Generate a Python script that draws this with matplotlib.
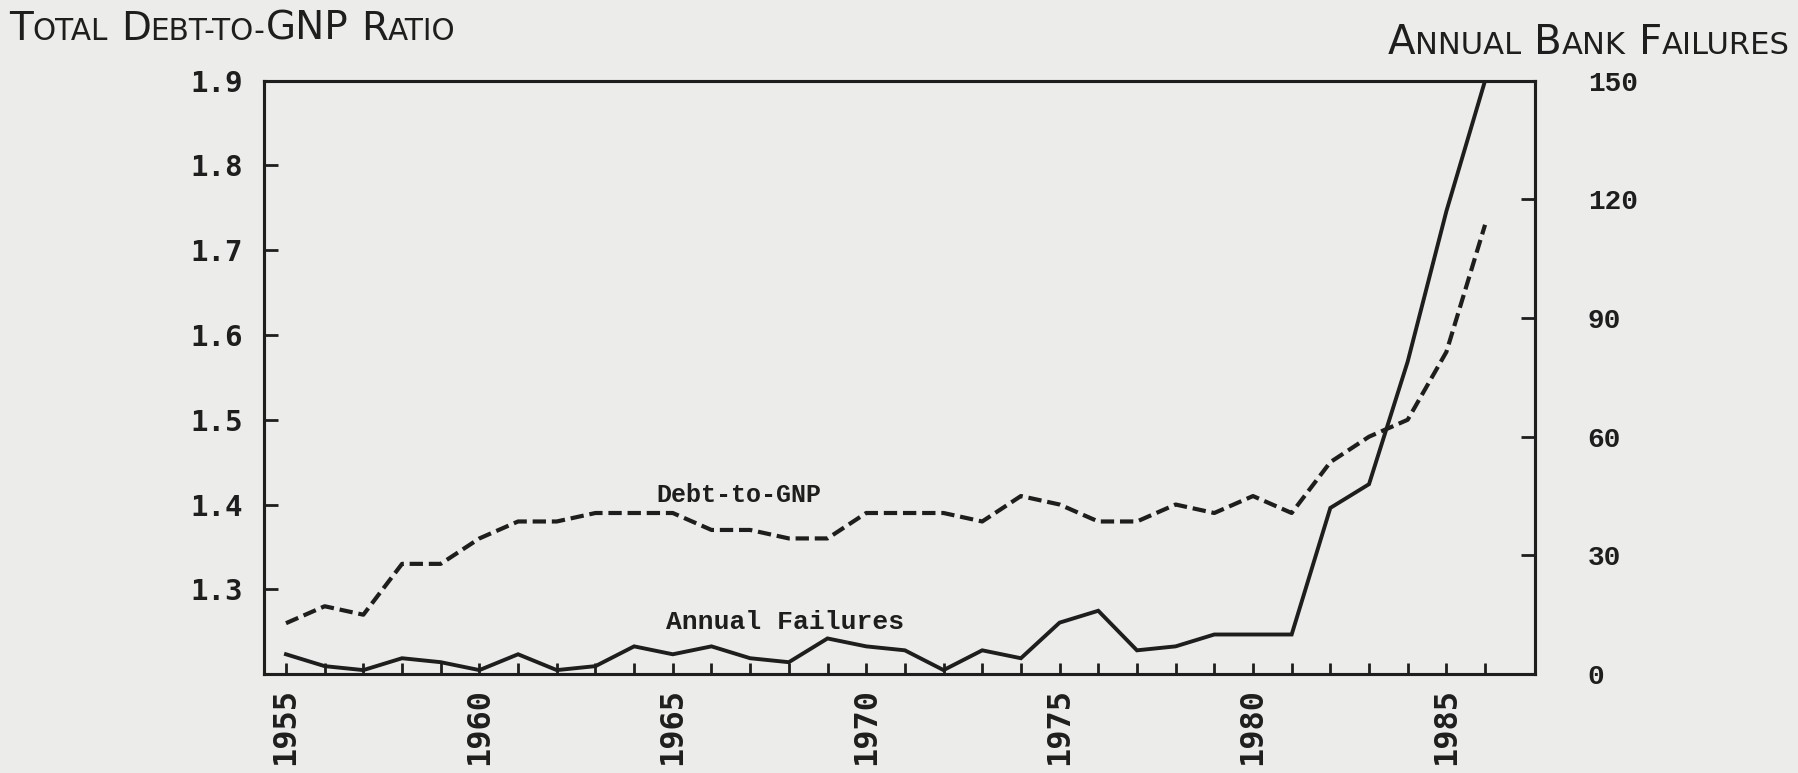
import matplotlib
matplotlib.use("Agg")
import matplotlib.pyplot as plt
from matplotlib.ticker import FixedLocator, FixedFormatter
from matplotlib.transforms import IdentityTransform

# ---------------- data ----------------
years = list(range(1955, 1987))
debt_to_gnp = [1.26, 1.28, 1.27, 1.33, 1.33, 1.36, 1.38, 1.38, 1.39, 1.39,
               1.39, 1.37, 1.37, 1.36, 1.36, 1.39, 1.39, 1.39, 1.38, 1.41,
               1.40, 1.38, 1.38, 1.40, 1.39, 1.41, 1.39, 1.45, 1.48, 1.50,
               1.58, 1.73]
annual_failures = [5, 2, 1, 4, 3, 1, 5, 1, 2, 7,
                   5, 7, 4, 3, 9, 7, 6, 1, 6, 4,
                   13, 16, 6, 7, 10, 10, 10, 42, 48, 79,
                   117, 150]
left_ticks = [1.3, 1.4, 1.5, 1.6, 1.7, 1.8, 1.9]
right_ticks = [0, 30, 60, 90, 120, 150]
year_labels = [str(y) if y % 5 == 0 else "" for y in years]

BG = "#ececea"
INK = "#1e1e1e"

fig = plt.figure(figsize=(17.98, 7.73), dpi=100, facecolor=BG)
ax = fig.add_axes([0.1468, 0.128, 0.7069, 0.7676])
ax.set_facecolor(BG)

ax.plot(years, debt_to_gnp, color=INK, lw=3.0, ls=(0, (3.2, 1.4)),
        dash_capstyle="butt", solid_joinstyle="round")
ax.set_xlim(1954.43, 1987.29)
ax.set_ylim(1.2, 1.9)

ax.yaxis.set_major_locator(FixedLocator(left_ticks))
ax.yaxis.set_major_formatter(FixedFormatter([f"{v:.1f}" for v in left_ticks]))
ax.xaxis.set_major_locator(FixedLocator(years))
ax.xaxis.set_major_formatter(FixedFormatter(year_labels))

for sp in ax.spines.values():
    sp.set_linewidth(2.2)
    sp.set_color(INK)

ax.tick_params(axis="y", direction="in", length=10, width=2.0, pad=15,
               colors=INK, labelsize=21)
ax.tick_params(axis="x", direction="in", length=8, width=2.0, pad=10,
               colors=INK, labelsize=23, labelrotation=90)
for lab in ax.get_yticklabels():
    lab.set_fontfamily("DejaVu Sans Mono")
    lab.set_fontweight("bold")
for lab in ax.get_xticklabels():
    lab.set_fontfamily("DejaVu Sans Mono")
    lab.set_fontweight("bold")

ax2 = ax.twinx()
ax2.plot(years, annual_failures, color=INK, lw=2.8, solid_joinstyle="miter")
ax2.set_ylim(0, 150)
ax2.yaxis.set_major_locator(FixedLocator(right_ticks))
ax2.yaxis.set_major_formatter(FixedFormatter([str(v) for v in right_ticks]))
for sp in ax2.spines.values():
    sp.set_linewidth(2.2)
    sp.set_color(INK)
ax2.tick_params(axis="y", direction="in", length=10, width=2.0, pad=38,
                colors=INK, labelsize=20)
for lab in ax2.get_yticklabels():
    lab.set_fontfamily("Liberation Mono")
    lab.set_fontweight("bold")

# in-plot labels
ax.text(1966.7, 1.411, "Debt-to-GNP", family="Liberation Mono", weight="bold",
        fontsize=18, color=INK, ha="center", va="center")
ax.text(1967.9, 1.262, "Annual Failures", family="Liberation Mono", weight="bold",
        fontsize=19, color=INK, ha="center", va="center")

# small-caps titles
renderer = fig.canvas.get_renderer()


def small_caps(x_px, y_px, parts, size, ha="left"):
    """parts: list of (text, is_big). Coordinates in pixels from top-left."""
    H = fig.bbox.height
    items = []
    total = 0.0
    for txt, big in parts:
        if txt == " ":
            items.append((None, size * 0.45))
            total += size * 0.45
            continue
        t = fig.text(0, 0, txt, fontsize=size if big else size * 0.76,
                     family="DejaVu Sans", color=INK, va="baseline",
                     ha="left", transform=IdentityTransform())
        w = t.get_window_extent(renderer).width
        items.append((t, w))
        total += w
    x = x_px - (total if ha == "right" else 0)
    for t, w in items:
        if t is not None:
            t.set_position((x, H - y_px))
        x += w


small_caps(9, 40, [("T", 1), ("OTAL", 0), (" ", 0), ("D", 1), ("EBT-TO-", 0),
                   ("GNP", 1), (" ", 0), ("R", 1), ("ATIO", 0)], 28)
small_caps(1790, 54, [("A", 1), ("NNUAL", 0), (" ", 0), ("B", 1), ("ANK", 0),
                      (" ", 0), ("F", 1), ("AILURES", 0)], 29, ha="right")

fig.savefig("out.png", dpi=100, facecolor=BG)
